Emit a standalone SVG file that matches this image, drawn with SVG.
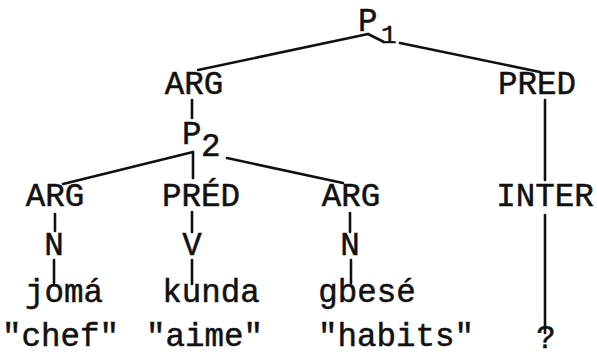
<svg xmlns="http://www.w3.org/2000/svg" width="597" height="358" viewBox="0 0 597 358">
<style>
text{font-family:"Liberation Mono","DejaVu Sans Mono",monospace;font-size:32.5px;fill:#111;stroke:#111;stroke-width:0.5}
.s{font-size:26px}
.m{text-anchor:middle}
#edges line{stroke:#111;stroke-width:2.6;stroke-linecap:round}
</style>
<rect width="597" height="358" fill="#fff"/>
<g id="edges">
<line x1="198" y1="70" x2="368" y2="34"/>
<line x1="368" y1="34" x2="384" y2="42"/>
<line x1="400" y1="43" x2="540" y2="72"/>
<line x1="192" y1="100" x2="192" y2="118"/>
<line x1="63" y1="184" x2="193" y2="152"/>
<line x1="193" y1="152" x2="193" y2="178"/>
<line x1="227" y1="158" x2="343" y2="183"/>
<line x1="545" y1="100" x2="545" y2="180"/>
<line x1="55" y1="214" x2="55" y2="231"/>
<line x1="54" y1="260" x2="54" y2="283"/>
<line x1="192" y1="212" x2="192" y2="232"/>
<line x1="192" y1="260" x2="192" y2="284"/>
<line x1="350" y1="213" x2="350" y2="232"/>
<line x1="351" y1="260" x2="351" y2="283"/>
<line x1="545" y1="215" x2="545" y2="333"/>
</g>
<g id="P1"><text x="358" y="31">P</text><text class="s" x="381" y="43">1</text></g>
<g id="ARG1"><text class="m" x="194" y="94">ARG</text></g>
<g id="PRED1"><text class="m" x="537" y="94">PRED</text></g>
<g id="P2"><text x="182" y="144">P</text><text x="201" y="156">2</text></g>
<g id="ARG2"><text class="m" x="55" y="206">ARG</text></g>
<g id="PRED2"><text class="m" x="201" y="206">PRÉD</text></g>
<g id="ARG3"><text class="m" x="351" y="206">ARG</text></g>
<g id="INTER"><text class="m" x="545" y="206">INTER</text></g>
<g id="N1"><text class="m" x="54" y="255">N</text></g>
<g id="V"><text class="m" x="192" y="255">V</text></g>
<g id="N2"><text class="m" x="350" y="255">N</text></g>
<g id="w1"><text class="m" x="64" y="302">jomá</text></g>
<g id="w2"><text class="m" x="211" y="302">kunda</text></g>
<g id="w3"><text class="m" x="367" y="302">gbesé</text></g>
<g id="g1"><text x="2" y="346">"chef"</text></g>
<g id="g2"><text x="146" y="346">"aime"</text></g>
<g id="g3"><text x="318" y="346">"habits"</text></g>
<g id="q"><text class="m" x="546" y="348">?</text></g>
</svg>
